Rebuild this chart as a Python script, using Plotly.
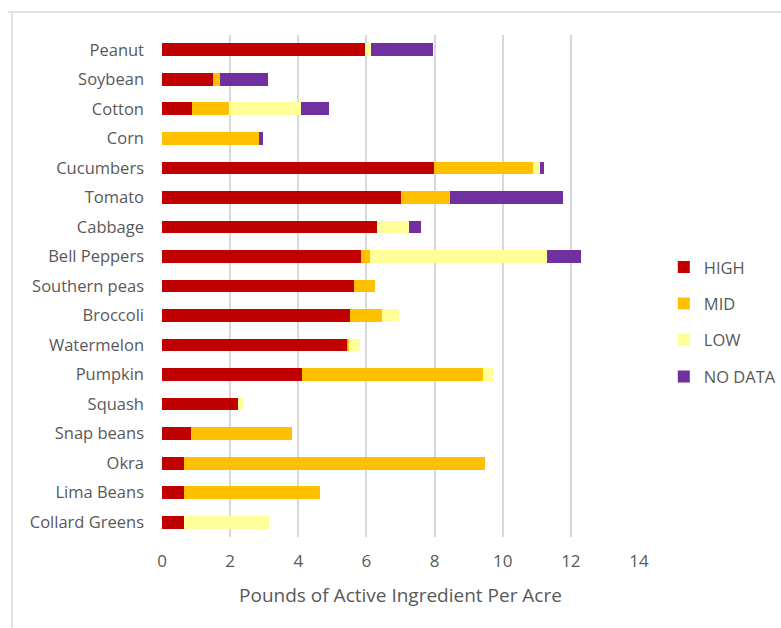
import plotly.graph_objects as go

crops = ["Peanut", "Soybean", "Cotton", "Corn", "Cucumbers", "Tomato", "Cabbage",
         "Bell Peppers", "Southern peas", "Broccoli", "Watermelon", "Pumpkin",
         "Squash", "Snap beans", "Okra", "Lima Beans", "Collard Greens"]

high = [5.97, 1.50, 0.88, 0.00, 7.99, 7.01, 6.31, 5.83, 5.63, 5.51, 5.45, 4.10, 2.23, 0.84, 0.64, 0.64, 0.64]
mid = [0.00, 0.20, 1.10, 2.84, 2.89, 1.45, 0.00, 0.27, 0.62, 0.95, 0.03, 5.31, 0.00, 2.98, 8.83, 4.01, 0.00]
low = [0.16, 0.00, 2.11, 0.00, 0.21, 0.00, 0.94, 5.21, 0.00, 0.49, 0.34, 0.30, 0.18, 0.00, 0.00, 0.00, 2.50]
nodata = [1.82, 1.41, 0.81, 0.13, 0.13, 3.31, 0.34, 0.98, 0.00, 0.00, 0.00, 0.00, 0.00, 0.00, 0.00, 0.00, 0.00]

series = [("HIGH", high, "#C00000"), ("MID", mid, "#FFC000"),
          ("LOW", low, "#FFFF99"), ("NO DATA", nodata, "#7030A0")]

xticks = [0, 2, 4, 6, 8, 10, 12, 14]

FONT = "'Open Sans', sans-serif"
GREY = "#595959"

fig = go.Figure()
for name, vals, col in series:
    fig.add_trace(go.Bar(
        y=crops, x=vals, name=name, orientation="h",
        marker=dict(color=col, line=dict(width=0)),
        legendgroup=name,
    ))

fig.update_layout(
    width=781, height=628,
    barmode="stack", bargap=0.57,
    margin=dict(l=162, r=142, t=35, b=91, autoexpand=False),
    plot_bgcolor="white", paper_bgcolor="white",
    font=dict(family=FONT, size=15, color=GREY),
    legend=dict(x=1.052, y=0.572, xanchor="left", yanchor="top",
                traceorder="grouped", tracegroupgap=12,
                font=dict(size=16.5, color=GREY), itemwidth=30),
    xaxis=dict(range=[0, 14], tickvals=xticks, showgrid=True, gridcolor="#D9D9D9",
               gridwidth=1.5, zeroline=False, showline=False,
               tickfont=dict(size=17, color=GREY), ticklabelstandoff=12,
               title=dict(text="Pounds of Active Ingredient Per Acre",
                          font=dict(size=19, color=GREY), standoff=17)),
    yaxis=dict(categoryorder="array", categoryarray=crops, autorange="reversed",
               showgrid=False, zeroline=False, showline=False,
               tickfont=dict(size=16.5, color=GREY), ticklabelstandoff=17),
    shapes=[
        dict(type="line", xref="paper", yref="paper", x0=-0.323, x1=1.32,
             y0=1.0458, y1=1.0458, line=dict(color="#D9D9D9", width=1.5)),
        dict(type="line", xref="paper", yref="paper", x0=-0.3145, x1=-0.3145,
             y0=1.0458, y1=-0.2, line=dict(color="#D9D9D9", width=1.5)),
    ],
)

fig.write_html("out.html")
